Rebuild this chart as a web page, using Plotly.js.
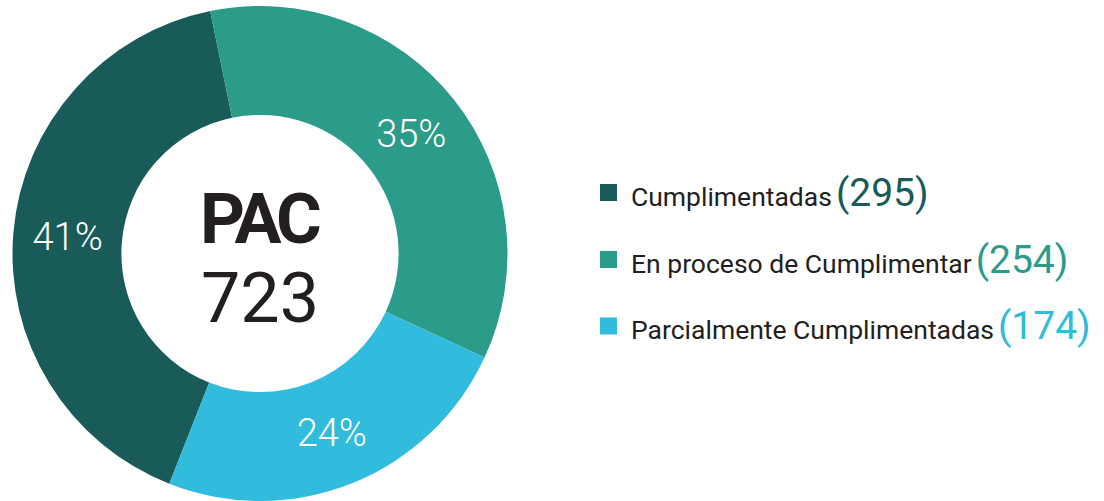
<!DOCTYPE html>
<html>
<head>
<meta charset="utf-8">
<script src="https://cdn.plot.ly/plotly-3.0.1.min.js"></script>
<style>html,body{margin:0;padding:0;background:#fff;}#chart{width:1104px;height:501px;}</style>
</head>
<body>
<div id="chart"></div>
<script>
// Data
const categories = ["Cumplimentadas", "En proceso de Cumplimentar", "Parcialmente Cumplimentadas"];
const values = [295, 254, 174];
const colors = ["#185B58", "#2B9B8A", "#31BBDD"];
const centerTitle = "PAC";
const centerTotal = "723";

const W = 1104, H = 501, T = 6;
const px2x = x => x / W;
const px2y = y => (H - y) / (H - T);

const trace = {
  type: "pie",
  labels: categories,
  values: values,
  marker: { colors: colors, line: { width: 0 } },
  hole: 0.56,
  sort: false,
  direction: "clockwise",
  rotation: 201.5,
  texttemplate: "%{percent:.0%}",
  textposition: "inside",
  insidetextorientation: "horizontal",
  textfont: { family: "Roboto", size: 38, color: "#ffffff", weight: 300 },
  hoverinfo: "label+value+percent",
  showlegend: false,
  domain: { x: [12.5 / W, 507.5 / W], y: [0, 1] }
};

const annotations = [
  { x: px2x(260), y: px2y(219), xref: "paper", yref: "paper", showarrow: false,
    text: "<span style=\"letter-spacing:-5px\"><b>" + centerTitle + "</b></span>", xanchor: "center", yanchor: "middle",
    font: { family: "Roboto", size: 70, color: "#231F20" } },
  { x: px2x(260), y: px2y(298), xref: "paper", yref: "paper", showarrow: false,
    text: centerTotal, xanchor: "center", yanchor: "middle",
    font: { family: "Roboto", size: 70, color: "#231F20" } }
];
const shapes = [];
const rowY = [192.5, 259.5, 326];
categories.forEach((c, i) => {
  shapes.push({ type: "rect", xref: "paper", yref: "paper",
    x0: px2x(600), x1: px2x(617), y0: px2y(rowY[i] - 8.5), y1: px2y(rowY[i] + 8.5),
    fillcolor: colors[i], line: { width: 0 } });
  annotations.push({ x: px2x(629), y: px2y(rowY[i]), xref: "paper", yref: "paper", showarrow: false,
    xanchor: "left", yanchor: "middle",
    text: c + "<span style=\"font-size:39px;color:" + colors[i] + "\">\u200A(" + values[i] + ")</span>",
    font: { family: "Roboto", size: 26.5, color: "#231F20" } });
});

const layout = {
  width: W, height: H,
  margin: { l: 0, r: 0, t: T, b: 0 },
  paper_bgcolor: "#ffffff",
  plot_bgcolor: "#ffffff",
  showlegend: false,
  annotations: annotations,
  shapes: shapes
};

Plotly.newPlot("chart", [trace], layout, { displayModeBar: false, staticPlot: true });
</script>
</body>
</html>
